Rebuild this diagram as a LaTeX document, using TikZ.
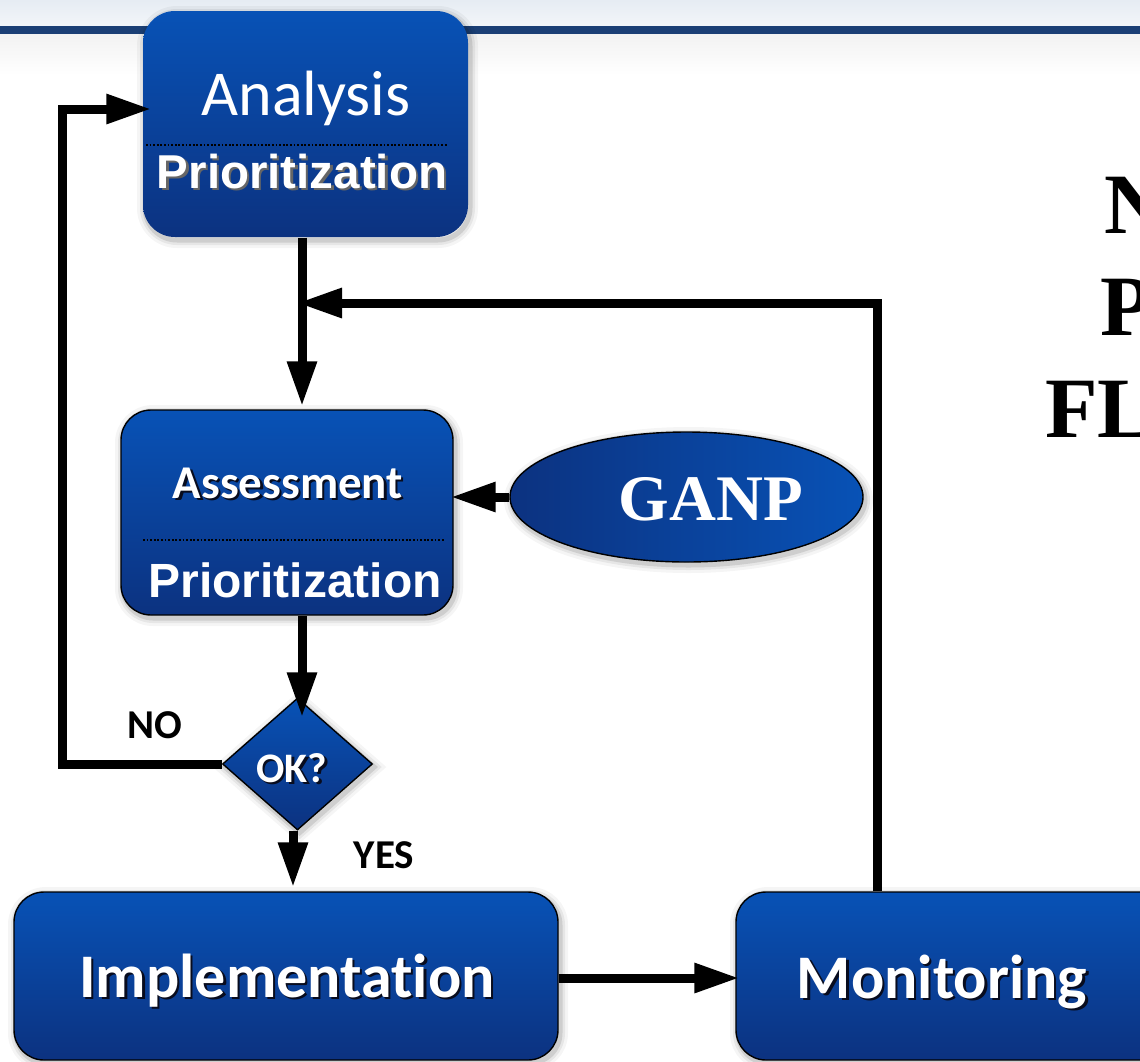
\documentclass[tikz,border=0pt]{standalone}
\usepackage{fontspec}
\setmainfont{Carlito}[Ligatures={NoCommon}]
\newfontfamily\arialf{Liberation Sans}
\newfontfamily\timesf{Liberation Serif}
\usetikzlibrary{arrows.meta,shapes.geometric}

\definecolor{boxtop}{RGB}{8,82,182}
\definecolor{boxbot}{RGB}{12,50,128}
\definecolor{band}{RGB}{27,63,117}
\definecolor{headtop}{RGB}{230,236,243}
\definecolor{headbot}{RGB}{243,246,249}
\definecolor{txtsh}{RGB}{8,12,30}

% white text with a dark copy offset down-right behind it
\newcommand\shadowed[2][txtsh]{\leavevmode\rlap{\kern2.2pt\raisebox{-2.2pt}{\color{#1}#2}}#2}

\tikzset{
  softshadow/.style={
    preaction={draw=black, draw opacity=0.04, line width=16pt, transform canvas={xshift=2pt,yshift=-3pt}},
    preaction={draw=black, draw opacity=0.06, line width=10pt, transform canvas={xshift=2pt,yshift=-3pt}},
    preaction={draw=black, draw opacity=0.10, line width=5pt, transform canvas={xshift=2pt,yshift=-3pt}}},
  stage/.style={rectangle, top color=boxtop, bottom color=boxbot, draw=black,
    line width=1.4pt, inner sep=0pt, softshadow},
  txt/.style={anchor=base, inner sep=0pt, text=white},
  lbl/.style={anchor=base, inner sep=0pt, text=black, font=\bfseries\fontsize{41}{45}\selectfont},
  side/.style={anchor=base west, inner sep=0pt, text=black, font=\timesf\bfseries\fontsize{86}{90}\selectfont},
  dotline/.style={line width=1.8pt, dash pattern=on 1.8pt off 1.8pt},
  arr/.style={line width=9pt, -{Triangle[length=45pt,width=28pt]}}
}

\begin{document}
\begin{tikzpicture}[x=1pt,y=-1pt]
\useasboundingbox (0,0) rectangle (1140,1061);
\begin{scope}
\clip (0,0) rectangle (1140,1061);

% page header
\fill[white] (0,0) rectangle (1140,1061);
\shade[top color=headtop, bottom color=headbot] (0,0) rectangle (1140,27);
\shade[top color=black!5, bottom color=white] (0,34) rectangle (1140,75);
\fill[band] (0,26) rectangle (1140,34);

% side title, running off the right edge
\node[side] (t1) at (1104,233) {N};
\node[side] (t2) at (1100,335) {P};
\node[side] (t3) at (1045,437) {FL};

% stages
\node[stage, draw=none, rounded corners=32pt, minimum width=325pt, minimum height=226pt] (an) at (305.5,124) {};
\node[stage, rounded corners=30pt, minimum width=332pt, minimum height=205pt] (as) at (287,512.5) {};
\node[stage, rounded corners=30pt, minimum width=544pt, minimum height=168pt] (impl) at (286,976) {};
\node[stage, rounded corners=30pt, minimum width=460pt, minimum height=168pt] (mon) at (966,976) {};
\node[ellipse, left color=boxbot, middle color=boxtop, right color=boxtop, draw=black,
      line width=1.4pt, minimum width=353pt, minimum height=130pt, inner sep=0pt, softshadow] (ganp) at (686.5,497) {};
\node[diamond, top color=boxtop, bottom color=boxbot, draw=black, line width=1.4pt,
      minimum width=150pt, minimum height=132pt, inner sep=0pt, softshadow] (ok) at (297.5,764) {};

% dividers
\draw[dotline] (146,145) -- (447,145);
\draw[dotline] (143,540) -- (445,540);

% stage texts
\node[txt, font=\fontsize{64}{70}\selectfont] (antxt) at (306,115) {Analysis};
\node[txt, font=\arialf\bfseries\fontsize{47.5}{50}\selectfont] (anpri) at (302,188) {\shadowed[black!60]{Prioritization}};
\node[txt, font=\bfseries\fontsize{47}{50}\selectfont] (astxt) at (288,498) {\shadowed{Assessment}};
\node[txt, font=\arialf\bfseries\fontsize{48}{50}\selectfont] (aspri) at (295,597) {Prioritization};
\node[txt, font=\timesf\bfseries\fontsize{65}{70}\selectfont] (ganptxt) at (711,520) {GANP};
\node[txt, font=\bfseries\fontsize{42}{46}\selectfont] (oktxt) at (292,782) {\shadowed{OK?}};
\node[txt, font=\bfseries\fontsize{62}{66}\selectfont] (impltxt) at (287,997) {\shadowed{Implementation}};
\node[txt, font=\bfseries\fontsize{62}{66}\selectfont] (montxt) at (942,998) {\shadowed{Monitoring}};

% branch labels
\node[lbl] (no) at (155,738) {NO};
\node[lbl] (yes) at (384,868) {YES};

% connector guide points
\coordinate (c1) at (302,0);
\coordinate (c3) at (293,0);
\coordinate (j) at (297,303);
\coordinate (fb) at (877,0);
\coordinate (lp) at (62,109);
\coordinate (c4) at (0,978);

% connectors
\draw[arr] (an.south -| c1) -- ([yshift=3pt]as.north -| c1);
\draw[arr] (mon.north -| fb) |- (j);
\draw[arr] (ganp.west) -- ([xshift=-3pt]as.east |- ganp.west);
\draw[arr] (as.south -| c1) -- ([yshift=-20pt]ok.north -| c1);
\draw[arr] (ok.west) -| (lp) -- ([xshift=9pt]an.west |- lp);
\draw[arr] (ok.south -| c3) -- ([yshift=4pt]impl.north -| c3);
\draw[arr] (impl.east |- c4) -- ([xshift=4pt]mon.west |- c4);
\end{scope}
\end{tikzpicture}
\end{document}
